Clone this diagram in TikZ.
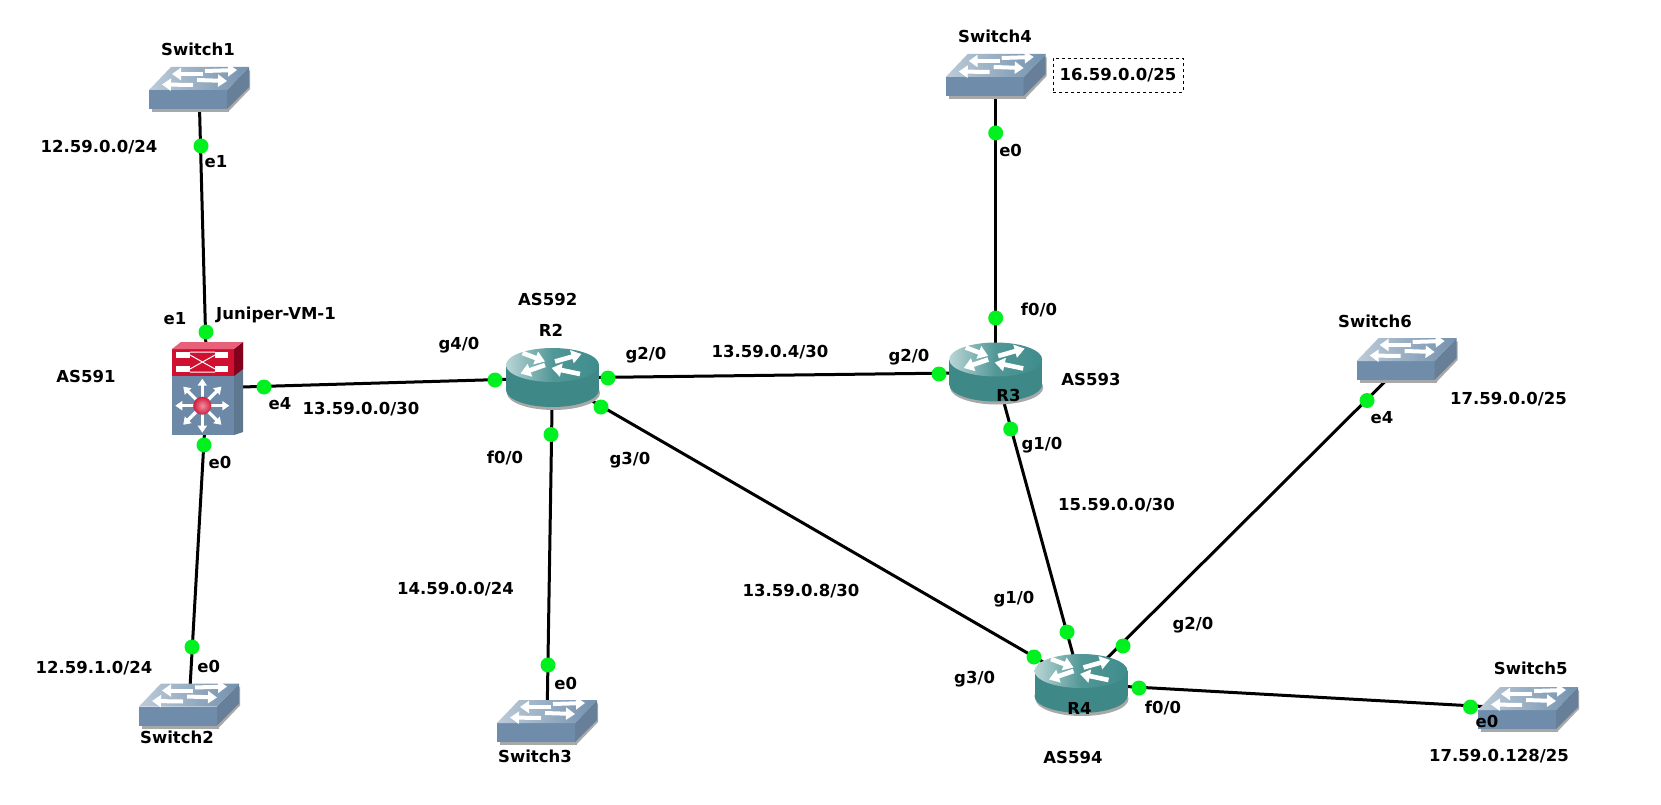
\documentclass[tikz,border=0pt]{standalone}
\usepackage{fontspec}
\setmainfont{DejaVu Sans}
\usetikzlibrary{arrows.meta}
\definecolor{swtopL}{HTML}{BCCBD8}
\definecolor{swtopR}{HTML}{7391AE}
\definecolor{swfront}{HTML}{6F8CAB}
\definecolor{swside}{HTML}{687F99}
\definecolor{shadowc}{HTML}{A8A8A8}
\definecolor{rtL}{HTML}{BAD5D5}
\definecolor{rtR}{HTML}{3F8C8C}
\definecolor{rtB}{HTML}{3E8888}
\definecolor{jred}{HTML}{CF1030}
\definecolor{jredL}{HTML}{E8607A}
\definecolor{jredD}{HTML}{85001C}
\definecolor{jblue}{HTML}{6C89A8}
\definecolor{jside}{HTML}{5F7890}
\definecolor{portg}{HTML}{00F020}
\tikzset{
  x=1pt,y=-1pt,
  dev/.style={inner sep=0pt,minimum size=0pt,outer sep=0pt},
  link/.style={line width=3pt,black},
  port/.style={circle,fill=portg,draw=none,minimum size=15pt,inner sep=0pt},
  lab/.style={font=\fontsize{16.5}{18}\selectfont\bfseries,inner sep=0pt,text=black},
  noteb/.style={draw=black,dashed,line width=0.7pt,minimum width=130pt,minimum height=34pt,inner sep=0pt},
  wa/.style={white,line width=4.6pt,-{Triangle[length=10pt,width=13pt]}},
  wb/.style={white,line width=4pt,-{Triangle[length=9pt,width=12pt]}},
  switch/.pic={
    \fill[shadowc] (-47,4) rectangle (30,23);
    \fill[shadowc] (29,4) -- (51,-19) -- (51,0) -- (29,23) -- cycle;
    \fill[swfront] (-50,1) rectangle (28,20);
    \fill[swside] (28,1) -- (50,-22) -- (50,-2) -- (28,20) -- cycle;
    \shade[left color=swtopL,right color=swtopR] (-50,1) -- (-28,-22) -- (50,-22) -- (28,1) -- cycle;
    \draw[wb] (6,-18) -- (38,-19);
    \draw[wb] (4,-15) -- (-27,-15);
    \draw[wb] (-2,-9) -- (28,-8);
    \draw[wb] (-6,-4) -- (-37,-4.5);
  },
  router/.pic={
    \fill[shadowc] (1,15) ellipse[x radius=46.5,y radius=17];
    \fill[rtB] (0,12) ellipse[x radius=46.5,y radius=17];
    \fill[rtB] (-46.5,-13) rectangle (46.5,12);
    \shade[left color=rtL,right color=rtR,middle color=rtR!85!rtL] (0,-13) ellipse[x radius=46.5,y radius=17];
    \draw[wa] (-30,-25) -- (-7.5,-16.5);
    \draw[wa] (2.5,-16.5) -- (29,-24);
    \draw[wa] (-7.5,-13) -- (-32,-4.5);
    \draw[wa] (27.5,-4) -- (-1,-10);
  },
  juniper/.pic={
    \fill[jside] (27,-39) -- (36,-46) -- (36,44) -- (27,47) -- cycle;
    \fill[jredD] (27,-39) -- (36,-46) -- (36,-19) -- (27,-12) -- cycle;
    \fill[jblue] (-35,-12) rectangle (27,47);
    \fill[jred] (-35,-39) rectangle (27,-12);
    \fill[jredL] (-35,-39) -- (-26,-46) -- (36,-46) -- (27,-39) -- cycle;
    \fill[white] (-31,-36) rectangle (-17,-30);
    \fill[white] (8,-36) rectangle (21,-30);
    \fill[white] (-31,-22) rectangle (-17,-16);
    \fill[white] (8,-22) rectangle (21,-16);
    \draw[white,line width=1pt] (-17,-36) -- (8,-36) (-17,-16) -- (8,-16) (-17,-33) -- (8,-19) (-17,-19) -- (8,-33);
    \foreach \a in {0,45,...,315}{
      \draw[white,line width=3.2pt,-{Triangle[length=7pt,width=9pt]}] (-4.7,17.7) -- ++(\a:27);
    }
    \shade[inner color=jredL!70!white,outer color=jred!85!jredL] (-4.7,17.7) circle[radius=9];
  },
}
\begin{document}
\begin{tikzpicture}
\useasboundingbox (0,0) rectangle (1661,805);
\fill[white] (0,0) rectangle (1661,805);
% device anchors
\node[dev] (sw1) at (199,89) {};
\node[dev] (sw2) at (189,705.5) {};
\node[dev] (sw3) at (547,722) {};
\node[dev] (sw4) at (995.7,76) {};
\node[dev] (sw5) at (1528,709) {};
\node[dev] (sw6) at (1406.6,360) {};
\node[dev] (jun) at (207,388) {};
\node[dev] (r2) at (552.5,378) {};
\node[dev] (r3) at (995.7,372.5) {};
\node[dev] (r4) at (1081,684) {};
% links
\draw[link] (sw1) -- (jun);
\draw[link] (jun) -- (sw2);
\draw[link] (jun) -- (r2);
\draw[link] (r2) -- (sw3);
\draw[link] (r2) -- (r3);
\draw[link] (r2) -- (r4);
\draw[link] (r3) -- (sw4);
\draw[link] (r3) -- (r4);
\draw[link] (r4) -- (sw6);
\draw[link] (r4) -- (sw5);
% icons
\pic at (sw1) {switch};
\pic at (sw2) {switch};
\pic at (sw3) {switch};
\pic at (sw4) {switch};
\pic at (sw5) {switch};
\pic at (sw6) {switch};
\pic at (jun) {juniper};
\pic at (r2) {router};
\pic at (r3) {router};
\pic at (r4) {router};
% ports
\node[port] (p1) at (201,146) {};
\node[port] (p2) at (206,332) {};
\node[port] (p3) at (264,387) {};
\node[port] (p4) at (204,445) {};
\node[port] (p5) at (192,647) {};
\node[port] (p6) at (495,380) {};
\node[port] (p7) at (608,378) {};
\node[port] (p8) at (601,407) {};
\node[port] (p9) at (551,434.5) {};
\node[port] (p10) at (548,665) {};
\node[port] (p11) at (939,374) {};
\node[port] (p12) at (995.7,318) {};
\node[port] (p13) at (995.7,133) {};
\node[port] (p14) at (1010.7,429) {};
\node[port] (p15) at (1067,632) {};
\node[port] (p16) at (1123,646) {};
\node[port] (p17) at (1034,657) {};
\node[port] (p18) at (1139,688) {};
\node[port] (p19) at (1470.5,707) {};
\node[port] (p20) at (1367,400.5) {};
% labels
\node[lab] (t1) at (198,49) {Switch1};
\node[lab] (t2) at (99,147) {12.59.0.0/24};
\node[lab] (t3) at (216,162) {e1};
\node[lab] (t4) at (276,315) {Juniper-VM-1};
\node[lab] (t5) at (175,319) {e1};
\node[lab] (t6) at (86,376) {AS591};
\node[lab] (t7) at (459,345) {g4/0};
\node[lab] (t8) at (280,404) {e4};
\node[lab] (t9) at (361,409) {13.59.0.0/30};
\node[lab] (t10) at (220,462) {e0};
\node[lab] (t11) at (94,668.5) {12.59.1.0/24};
\node[lab] (t12) at (208.7,666.3) {e0};
\node[lab] (t13) at (177,737) {Switch2};
\node[lab] (t14) at (547.7,299.8) {AS592};
\node[lab] (t15) at (551,330.5) {R2};
\node[lab] (t16) at (646,355) {g2/0};
\node[lab] (t17) at (770,351.7) {13.59.0.4/30};
\node[lab] (t18) at (909,357) {g2/0};
\node[lab] (t19) at (505,457.6) {f0/0};
\node[lab] (t20) at (630,459.7) {g3/0};
\node[lab] (t21) at (455.5,589) {14.59.0.0/24};
\node[lab] (t22) at (565.7,683) {e0};
\node[lab] (t23) at (535,756) {Switch3};
\node[lab] (t24) at (801,591) {13.59.0.8/30};
\node[lab] (t25) at (995,36) {Switch4};
\node[noteb] (b1) at (1118,75) {};
\node[lab] (t26) at (1118,75) {16.59.0.0/25};
\node[lab] (t27) at (1010.6,150.4) {e0};
\node[lab] (t28) at (1039,310) {f0/0};
\node[lab] (t29) at (1008.5,395) {R3};
\node[lab] (t30) at (1091,379) {AS593};
\node[lab] (t31) at (1042,445) {g1/0};
\node[lab] (t32) at (1116.5,505) {15.59.0.0/30};
\node[lab] (t33) at (1375,321) {Switch6};
\node[lab] (t34) at (1382,417.4) {e4};
\node[lab] (t35) at (1508.5,399.4) {17.59.0.0/25};
\node[lab] (t36) at (1193,625) {g2/0};
\node[lab] (t37) at (1014,599.6) {g1/0};
\node[lab] (t38) at (974.6,679) {g3/0};
\node[lab] (t39) at (1079.4,708.7) {R4};
\node[lab] (t40) at (1163,707.6) {f0/0};
\node[lab] (t41) at (1073,757) {AS594};
\node[lab] (t42) at (1487,721.4) {e0};
\node[lab] (t43) at (1530.7,668.4) {Switch5};
\node[lab] (t44) at (1499,756.4) {17.59.0.128/25};
\end{tikzpicture}
\end{document}
